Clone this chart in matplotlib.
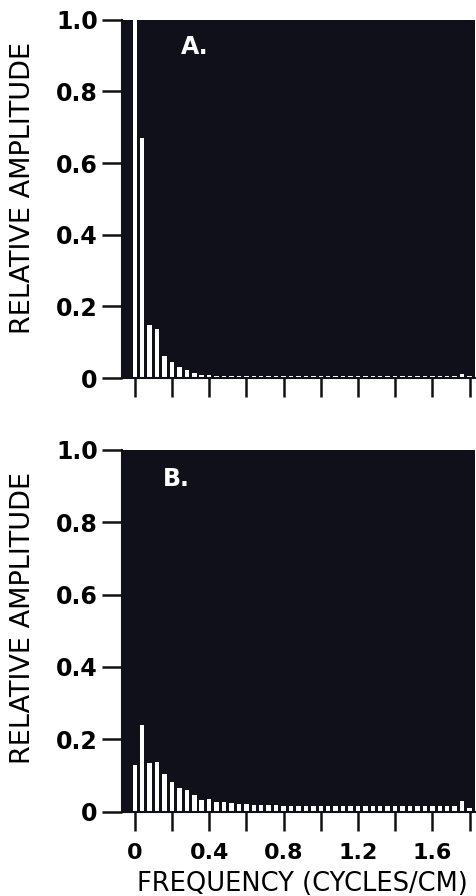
import numpy as np
import matplotlib
matplotlib.use("Agg")
import matplotlib.pyplot as plt

# spectrum sampled every 0.04 cycles/cm, from 0 to 1.8
FREQ_STEP = 0.04

amp_a = [1.0, 0.67, 0.147, 0.136, 0.063, 0.045, 0.031, 0.023, 0.015, 0.010,
         0.008, 0.007, 0.007, 0.006, 0.006, 0.006, 0.006, 0.006, 0.006, 0.006,
         0.006, 0.006, 0.006, 0.006, 0.006, 0.006, 0.006, 0.006, 0.006, 0.006,
         0.006, 0.006, 0.006, 0.006, 0.006, 0.006, 0.006, 0.006, 0.006, 0.006,
         0.006, 0.006, 0.006, 0.006, 0.012, 0.006]

amp_b = [0.129, 0.24, 0.134, 0.138, 0.103, 0.083, 0.065, 0.060, 0.046, 0.032,
         0.035, 0.027, 0.026, 0.024, 0.022, 0.022, 0.019, 0.018, 0.018, 0.018,
         0.016, 0.017, 0.017, 0.017, 0.017, 0.017, 0.017, 0.017, 0.017, 0.017,
         0.017, 0.017, 0.016, 0.016, 0.016, 0.016, 0.016, 0.016, 0.016, 0.016,
         0.016, 0.016, 0.016, 0.015, 0.030, 0.010]

panel_labels = ["A.", "B."]
ytick_vals = [0, 0.2, 0.4, 0.6, 0.8, 1.0]
ytick_labels = ["0", "0.2", "0.4", "0.6", "0.8", "1.0"]
xtick_vals = [0, 0.2, 0.4, 0.6, 0.8, 1.0, 1.2, 1.4, 1.6, 1.8]
xtick_labels = ["0", "", "0.4", "", "0.8", "", "1.2", "", "1.6", ""]

BG = "#10101b"

fig = plt.figure(figsize=(4.77, 8.96), dpi=100)
ax_a = fig.add_axes([0.256, 0.578, 0.740, 0.400])
ax_b = fig.add_axes([0.256, 0.094, 0.740, 0.404])

for ax, amps, lab, lab_pos in [(ax_a, amp_a, panel_labels[0], (0.32, 0.925)),
                               (ax_b, amp_b, panel_labels[1], (0.225, 0.92))]:
    freq = np.arange(len(amps)) * FREQ_STEP
    ax.set_facecolor(BG)
    ax.bar(freq, amps, width=0.024, color="white", edgecolor="none")
    ax.set_xlim(-0.068, 1.83)
    ax.set_ylim(0, 1.0)

    ax.set_yticks(ytick_vals)
    ax.set_yticklabels(ytick_labels, fontsize=17, fontweight="bold")
    ax.set_xticks(xtick_vals)
    ax.tick_params(axis="y", direction="out", length=14.5, width=1.8,
                   color="#111111", pad=3)
    ax.tick_params(axis="x", direction="out", length=13.5, width=1.8,
                   color="#111111")

    for side in ["top", "right"]:
        ax.spines[side].set_visible(False)
    for side in ["left", "bottom"]:
        ax.spines[side].set_color(BG)
        ax.spines[side].set_linewidth(1.5)

    ax.set_ylabel("RELATIVE AMPLITUDE", fontsize=19.5)
    ax.text(lab_pos[0], lab_pos[1], lab, transform=ax.get_xaxis_transform(),
            color="white", fontsize=17, fontweight="bold", ha="center", va="center")

ax_a.set_xticklabels([])
ax_a.yaxis.set_label_coords(-0.245, 0.53)

ax_b.set_xticklabels(xtick_labels, fontsize=16, fontweight="bold")
ax_b.tick_params(axis="x", pad=9)
ax_b.set_xlabel("FREQUENCY (CYCLES/CM)", fontsize=18.5)
ax_b.xaxis.set_label_coords(0.51, -0.163)
ax_b.yaxis.set_label_coords(-0.245, 0.536)

fig.savefig("out.png", dpi=100, facecolor="white")
